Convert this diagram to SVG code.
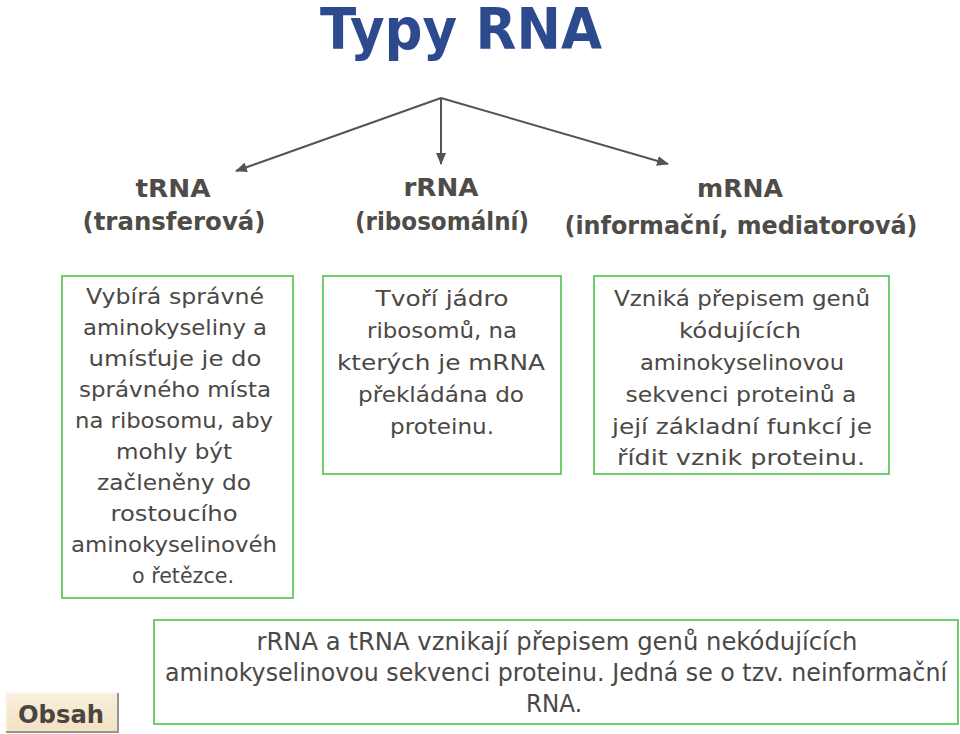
<svg xmlns="http://www.w3.org/2000/svg" width="960" height="734" viewBox="0 0 960 734">
  <defs>
    <marker id="arr" viewBox="0 0 12 10" refX="11" refY="5" markerWidth="12" markerHeight="10" markerUnits="userSpaceOnUse" orient="auto">
      <path d="M0,0 L12,5 L0,10 Z" fill="#57534e"/>
    </marker>
    <linearGradient id="btn" x1="0" y1="0" x2="0" y2="1">
      <stop offset="0" stop-color="#faefdc"/>
      <stop offset="1" stop-color="#f2e1c2"/>
    </linearGradient>
  </defs>
  <style>
    .t { font-family: "DejaVu Sans", "Liberation Sans", sans-serif; fill: #4b4845; text-anchor: middle; }
    .box { font-size: 22px; }
    .hd { font-size: 25px; font-weight: bold; fill: #4f4b47; }
    .bt { font-size: 24px; }
    .frame { fill: #ffffff; stroke: #6fcf6f; stroke-width: 2; }
    .conn { stroke: #57534e; stroke-width: 2; fill: none; marker-end: url(#arr); }
  </style>
  <rect width="960" height="734" fill="#ffffff"/>

  <g id="title">
    <text x="461" y="49" font-family="DejaVu Sans, Liberation Sans, sans-serif" font-size="57" font-weight="bold" fill="#2d4a8e" text-anchor="middle" textLength="282" lengthAdjust="spacingAndGlyphs">Typy RNA</text>
  </g>

  <g id="connectors">
    <line class="conn" x1="441" y1="98" x2="236" y2="171"/>
    <line class="conn" x1="441" y1="98" x2="441" y2="164"/>
    <line class="conn" x1="441" y1="98" x2="668" y2="164"/>
  </g>

  <g id="trna-header">
    <text class="t hd" x="173" y="197" textLength="75" lengthAdjust="spacingAndGlyphs">tRNA</text>
    <text class="t hd" x="174" y="230" textLength="183" lengthAdjust="spacingAndGlyphs">(transferová)</text>
  </g>
  <g id="rrna-header">
    <text class="t hd" x="441" y="196" textLength="75" lengthAdjust="spacingAndGlyphs">rRNA</text>
    <text class="t hd" x="442" y="230" textLength="174" lengthAdjust="spacingAndGlyphs">(ribosomální)</text>
  </g>
  <g id="mrna-header">
    <text class="t hd" x="740" y="197" textLength="86" lengthAdjust="spacingAndGlyphs">mRNA</text>
    <text class="t hd" x="741" y="234" textLength="353" lengthAdjust="spacingAndGlyphs">(informační, mediatorová)</text>
  </g>

  <g id="trna-box">
    <rect class="frame" x="62" y="276" width="231" height="322"/>
    <text class="t box" x="175" y="304" textLength="178" lengthAdjust="spacingAndGlyphs">Vybírá správné</text>
    <text class="t box" x="175" y="335" textLength="184" lengthAdjust="spacingAndGlyphs">aminokyseliny a</text>
    <text class="t box" x="175" y="366" textLength="173" lengthAdjust="spacingAndGlyphs">umísťuje je do</text>
    <text class="t box" x="175" y="397" textLength="192" lengthAdjust="spacingAndGlyphs">správného místa</text>
    <text class="t box" x="174" y="428" textLength="198" lengthAdjust="spacingAndGlyphs">na ribosomu, aby</text>
    <text class="t box" x="174" y="459" textLength="116" lengthAdjust="spacingAndGlyphs">mohly být</text>
    <text class="t box" x="174" y="490" textLength="154" lengthAdjust="spacingAndGlyphs">začleněny do</text>
    <text class="t box" x="174" y="521" textLength="127" lengthAdjust="spacingAndGlyphs">rostoucího</text>
    <text class="t box" x="174" y="552" textLength="206" lengthAdjust="spacingAndGlyphs">aminokyselinovéh</text>
    <text class="t box" x="183" y="583" textLength="102" lengthAdjust="spacingAndGlyphs">o řetězce.</text>
  </g>

  <g id="rrna-box">
    <rect class="frame" x="323" y="276" width="238" height="198"/>
    <text class="t box" x="442" y="306" textLength="133" lengthAdjust="spacingAndGlyphs">Tvoří jádro</text>
    <text class="t box" x="442" y="338" textLength="150" lengthAdjust="spacingAndGlyphs">ribosomů, na</text>
    <text class="t box" x="441" y="370" textLength="208" lengthAdjust="spacingAndGlyphs">kterých je mRNA</text>
    <text class="t box" x="441" y="402" textLength="166" lengthAdjust="spacingAndGlyphs">překládána do</text>
    <text class="t box" x="442" y="434" textLength="104" lengthAdjust="spacingAndGlyphs">proteinu.</text>
  </g>

  <g id="mrna-box">
    <rect class="frame" x="594" y="276" width="295" height="198"/>
    <text class="t box" x="742" y="306" textLength="256" lengthAdjust="spacingAndGlyphs">Vzniká přepisem genů</text>
    <text class="t box" x="740" y="338" textLength="122" lengthAdjust="spacingAndGlyphs">kódujících</text>
    <text class="t box" x="742" y="370" textLength="204" lengthAdjust="spacingAndGlyphs">aminokyselinovou</text>
    <text class="t box" x="741" y="402" textLength="231" lengthAdjust="spacingAndGlyphs">sekvenci proteinů a</text>
    <text class="t box" x="742" y="434" textLength="260" lengthAdjust="spacingAndGlyphs">její základní funkcí je</text>
    <text class="t box" x="741" y="465" textLength="248" lengthAdjust="spacingAndGlyphs">řídit vznik proteinu.</text>
  </g>

  <g id="note-box">
    <rect class="frame" x="154" y="620" width="804" height="104"/>
    <text class="t bt" x="557" y="650" textLength="601" lengthAdjust="spacingAndGlyphs">rRNA a tRNA vznikají přepisem genů nekódujících</text>
    <text class="t bt" x="556" y="681" textLength="782" lengthAdjust="spacingAndGlyphs">aminokyselinovou sekvenci proteinu. Jedná se o tzv. neinformační</text>
    <text class="t bt" x="554" y="712" textLength="56" lengthAdjust="spacingAndGlyphs">RNA.</text>
  </g>

  <g id="obsah-button">
    <rect x="6" y="693" width="113" height="39" fill="url(#btn)"/>
    <path d="M6,732 L6,693 L119,693" fill="none" stroke="#fbf5ea" stroke-width="2"/>
    <path d="M118,693 L118,732 L6,732" fill="none" stroke="#9a958d" stroke-width="2"/>
    <text x="61" y="723" font-family="DejaVu Sans, Liberation Sans, sans-serif" font-size="24" font-weight="bold" fill="#4a4540" text-anchor="middle" textLength="86" lengthAdjust="spacingAndGlyphs">Obsah</text>
  </g>
</svg>
